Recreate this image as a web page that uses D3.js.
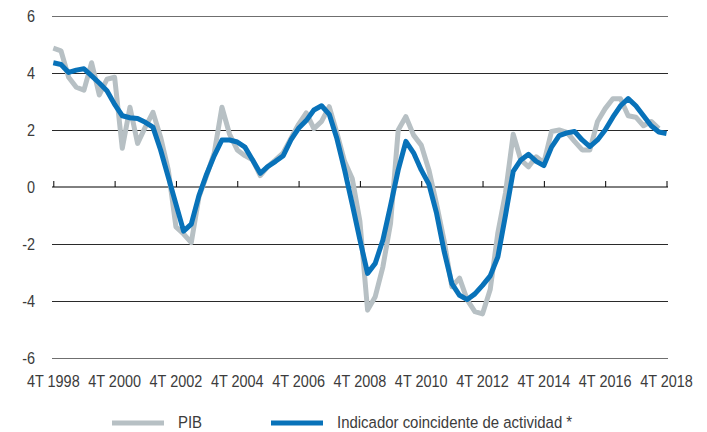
<!DOCTYPE html>
<html>
<head>
<meta charset="utf-8">
<script src="https://cdn.jsdelivr.net/npm/d3@7"></script>
<style>
  html, body { margin: 0; padding: 0; background: #fff; }
  svg text { font-family: "Liberation Sans", Arial, sans-serif; fill: #3c3c3c; }
</style>
</head>
<body>
<svg id="chart" width="707" height="432"></svg>
<script>
// Quarterly year-on-year growth (%), 4T 1998 – 4T 2018
const startYear = 1998;
const quarterCount = 81;
const quarters = Array.from({ length: quarterCount }, (_, i) => {
  const q = ((3 + i) % 4) + 1;
  const y = startYear + Math.floor((3 + i) / 4);
  return q + "T " + y;
});

const tickLabels = ["4T 1998", "4T 2000", "4T 2002", "4T 2004", "4T 2006", "4T 2008",
                    "4T 2010", "4T 2012", "4T 2014", "4T 2016", "4T 2018"];
const yTicks = [-6, -4, -2, 0, 2, 4, 6];

// PIB (ends 3T 2018)
const pib = [
  4.87, 4.78, 3.85, 3.50, 3.40, 4.36, 3.23, 3.78, 3.85, 1.36,
  2.80, 1.53, 2.10, 2.62, 1.75, 0.60, -1.40, -1.65, -1.95, -0.35,
  0.40, 1.20, 2.80, 1.85, 1.30, 1.10, 0.95, 0.40, 0.72, 0.95,
  1.20, 1.70, 2.20, 2.60, 2.05, 2.30, 2.82, 1.90, 0.90, 0.30,
  -1.20, -4.32, -3.85, -2.80, -1.27, 2.00, 2.47, 1.82, 1.47, 0.60,
  -0.60, -1.90, -3.50, -3.20, -3.96, -4.37, -4.45, -3.60, -1.60, -0.20,
  1.85, 0.95, 0.71, 1.06, 0.85, 1.95, 2.00, 1.92, 1.60, 1.30,
  1.30, 2.30, 2.75, 3.10, 3.10, 2.50, 2.45, 2.15, 2.30, 2.05
];

// Indicador coincidente de actividad (ends 4T 2018)
const ica = [
  4.36, 4.30, 4.02, 4.10, 4.15, 3.90, 3.65, 3.38, 2.90, 2.50,
  2.43, 2.40, 2.27, 2.10, 1.30, 0.35, -0.60, -1.55, -1.30, -0.30,
  0.45, 1.10, 1.65, 1.65, 1.58, 1.40, 0.95, 0.48, 0.72, 0.90,
  1.10, 1.65, 2.06, 2.33, 2.70, 2.85, 2.55, 1.70, 0.60, -0.60,
  -1.85, -3.03, -2.68, -1.86, -0.65, 0.60, 1.60, 1.20, 0.60, 0.10,
  -0.92, -2.27, -3.39, -3.80, -3.95, -3.75, -3.45, -3.12, -2.45, -0.98,
  0.55, 0.95, 1.15, 0.90, 0.75, 1.40, 1.80, 1.90, 1.95, 1.65,
  1.42, 1.65, 2.00, 2.45, 2.85, 3.10, 2.85, 2.50, 2.15, 1.93, 1.88
];

const seriesNames = ["PIB", "Indicador coincidente de actividad *"];
const seriesColors = ["#b7c0c4", "#0872b9"];

const svg = d3.select("#chart");
const plot = { left: 52, right: 668, top: 16, bottom: 358 };

const x = d3.scalePoint().domain(quarters).range([53.3, 666.5]);
const y = d3.scaleLinear().domain([-6, 6]).range([plot.bottom, plot.top]);

// condensed-looking text: a regular face squeezed horizontally
function label(g, px, py, txt, size, anchor, sx) {
  g.append("g")
    .attr("transform", `translate(${px},${py}) scale(${sx},1)`)
    .append("text")
    .attr("text-anchor", anchor)
    .attr("dy", "0.35em")
    .attr("font-size", size)
    .text(txt);
}

// horizontal gridlines
svg.append("g")
  .selectAll("line")
  .data(yTicks.filter(v => v !== 0))
  .join("line")
  .attr("x1", plot.left).attr("x2", plot.right)
  .attr("y1", d => y(d)).attr("y2", d => y(d))
  .attr("stroke", d => (Math.abs(d) === 6 ? "#6f6f6f" : "#2a2a2a"))
  .attr("stroke-width", 1)
  .attr("shape-rendering", "crispEdges");

// y-axis labels
const gy = svg.append("g");
yTicks.forEach(v => label(gy, 35, y(v), v, 17, "end", 0.85));

// zero line with category ticks pointing up
const xAxis = d3.axisBottom(x)
  .tickValues(tickLabels)
  .tickSizeInner(-6)
  .tickSizeOuter(0)
  .tickFormat(() => "");
const gx = svg.append("g").attr("transform", `translate(0,${y(0)})`).call(xAxis);
gx.select(".domain").attr("d", `M${plot.left},0H${plot.right}`).attr("stroke", "#000");
gx.selectAll(".tick line").attr("stroke", "#000");

// category labels below the plot
const gl = svg.append("g");
tickLabels.forEach(t => label(gl, x(t), 381, t, 17, "middle", 0.85));

// series lines
const line = d3.line()
  .x((d, i) => x(quarters[i]))
  .y(d => y(d));

[pib, ica].forEach((values, k) => {
  svg.append("path")
    .datum(values)
    .attr("d", line)
    .attr("fill", "none")
    .attr("stroke", seriesColors[k])
    .attr("stroke-width", 5)
    .attr("stroke-linejoin", "round");
});

// legend
const legendItems = [
  { x1: 112, x2: 164, tx: 178 },
  { x1: 271, x2: 323, tx: 337 }
];
const legend = svg.append("g");
legendItems.forEach((it, k) => {
  legend.append("line")
    .attr("x1", it.x1).attr("x2", it.x2)
    .attr("y1", 423).attr("y2", 423)
    .attr("stroke", seriesColors[k])
    .attr("stroke-width", 5);
  label(legend, it.tx, 422, seriesNames[k], 17, "start", 0.88);
});
</script>
</body>
</html>
